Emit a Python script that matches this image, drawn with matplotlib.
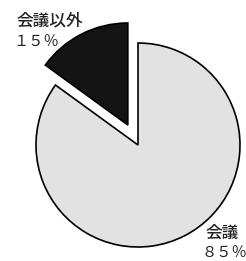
import matplotlib
matplotlib.use("Agg")
import matplotlib.pyplot as plt

plt.rcParams['font.family'] = ['Noto Sans CJK JP', 'DejaVu Sans']

labels = ["会議以外", "会議"]
shares = [15, 85]
pct_text = ["１５％", "８５％"]
colors = ["#141414", "#e2e2e2"]

fig = plt.figure(figsize=(2.46, 2.61), dpi=100)
ax = fig.add_axes([0, 0, 1, 1])

ax.pie(shares, colors=colors, startangle=90, counterclock=True,
       explode=[0.22, 0], radius=1.0,
       wedgeprops=dict(edgecolor="black", linewidth=1.2))

# pie() resets limits, so set them afterwards
r_px = 102.0
cx, cy = 138.0, 145.0
ax.set_xlim(-cx / r_px, (246 - cx) / r_px)
ax.set_ylim(-(261 - cy) / r_px, cy / r_px)
ax.set_aspect('equal')
ax.axis('off')


def px(x, y):
    return (x - cx) / r_px, (cy - y) / r_px


# label name and percentage placed as two lines
for (lx, ly), (dx, dy), name, pct in [((16, 18), (13, 40), labels[0], pct_text[0]),
                                     ((205, 231), (201, 251), labels[1], pct_text[1])]:
    ax.text(*px(lx, ly), name, ha='left', va='center_baseline',
            fontsize=12, fontweight='medium', color='#222222')
    ax.text(*px(dx, dy), pct, ha='left', va='center_baseline',
            fontsize=11, color='#222222')

fig.savefig("out.png", dpi=100)
